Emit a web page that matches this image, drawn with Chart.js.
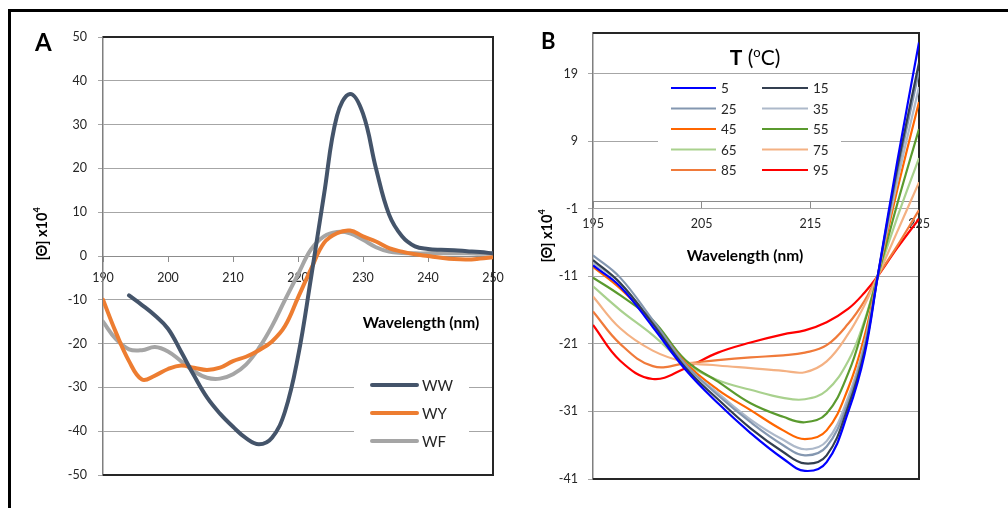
<!DOCTYPE html>
<html><head><meta charset="utf-8">
<script src="https://cdn.jsdelivr.net/npm/chart.js@4.4.1/dist/chart.umd.min.js"></script>
<style>
html,body{margin:0;padding:0;background:#fff;width:1008px;height:508px;overflow:hidden;}
#frame{position:absolute;left:8px;top:9px;width:1010px;height:510px;border-top:3px solid #000;border-left:3px solid #000;}
canvas{position:absolute;left:0;top:0;}
</style></head><body>
<div id="frame"></div>
<canvas id="ca" width="1008" height="508"></canvas>
<canvas id="cb" width="1008" height="508"></canvas>
<script>
// ---------- Panel A data ----------
const wlA = [190,192,194,196,198,200,202,204,206,208,210,212,214,216,218,220,222,224,226,228,230,232,234,236,238,240,242,244,246,248,250];
const WW  = [null,null,-9,-11.2,-13.6,-16.6,-21.8,-27.3,-32.3,-36,-39,-41.6,-43,-41.5,-35.5,-23,-5,14,32,37,32.5,20,9.5,4.5,2.2,1.6,1.4,1.3,1.1,0.9,0.6];
const WY  = [-10,-17.5,-24,-28.2,-27.3,-25.8,-25,-25.5,-26,-25.5,-24,-23,-21.5,-19.5,-16,-9.5,-3,3,5.2,5.8,4.5,3.3,1.8,1,0.4,0,-0.4,-0.7,-0.8,-0.6,-0.3];
const WF  = [-15,-19,-21.3,-21.5,-20.8,-21.8,-24,-26.3,-27.8,-28,-27,-24.8,-21,-16,-10,-4.2,1.5,4.5,5.5,5.2,3.7,2,1,0.7,0.6,0.6,0.6,0.6,0.6,0.5,0.5];
const ticksAx = [190,200,210,220,230,240,250];
const ticksAy = [-50,-40,-30,-20,-10,0,10,20,30,40,50];

// ---------- Panel B data ----------
const wlB = [195,197.5,200.5,203.5,206.5,209.5,212.5,214.5,216.5,218.5,220,221.2,223,225];
const temps = ['5','15','25','35','45','55','65','75','85','95'];
const T5  = [-9.4,-12.5,-18.5,-24.8,-29.8,-34.2,-38,-39.8,-38.5,-31,-22.5,-11,6,23.6];
const T15 = [-8.6,-12,-18,-24.5,-29.2,-33.5,-37,-38.7,-37.5,-30.2,-22,-11,5,20.6];
const T25 = [-7.9,-11.2,-17.5,-24,-28.6,-32.6,-36,-37.5,-36.2,-29.5,-21.3,-11,4.2,19.4];
const T35 = [-9,-12,-18,-24.2,-28.3,-32.2,-35.2,-36.6,-35.4,-28.8,-20.8,-11,3,17];
const T45 = [-9.6,-12.8,-17.8,-23.8,-27.8,-30.8,-33.8,-35.1,-33.8,-27.5,-19.8,-11,1.8,14.8];
const T55 = [-11.2,-13.8,-17.5,-23.4,-26.6,-29.8,-31.8,-32.6,-31.3,-25.3,-17.8,-11,-0.3,10.8];
const T65 = [-12.5,-16,-19.7,-23.9,-26.4,-27.8,-29,-29.2,-27.9,-23.5,-17.5,-11,-2.3,6.5];
const T75 = [-14,-18.7,-22,-23.7,-24.2,-24.6,-25,-25.2,-23.6,-19.5,-15.2,-11,-4.4,2.9];
const T85 = [-16.2,-21,-24.3,-23.9,-23.4,-23,-22.7,-22.3,-21.2,-18,-14.6,-11,-6.5,-1.2];
const T95 = [-18.2,-23.5,-26.2,-24.6,-22.3,-20.8,-19.6,-19,-17.8,-15.8,-13.4,-11,-6.8,-2.5];
const ticksBx = [195,205,215,225];
const ticksBy = [-41,-31,-21,-11,-1,9,19];

const colA = ['#44546A','#ED7D31','#A5A5A5'];
const colB = ['#0000FF','#333F50','#8497B0','#ADB9CA','#FF6600','#5A9A2E','#A9D18E','#F4B183','#F07A3A','#FF0000'];

const FONT = 'Lato, "Open Sans", sans-serif';
const pts = (xs, ys) => xs.map((x,i)=>({x:x, y:ys[i]})).filter(p=>p.y!==null);

function supText(ctx, x, y, parts){
  let cx = x;
  parts.forEach(p=>{ctx.font=p.font; ctx.fillText(p.t, cx, y+(p.dy||0)); cx += ctx.measureText(p.t).width;});
}
function widthOf(ctx, parts){let w=0; parts.forEach(p=>{ctx.font=p.font; w+=ctx.measureText(p.t).width;}); return w;}
function yTitle(ctx, cx, cy){
  const parts=[{t:'[Θ] x10',font:'bold 14.5px '+FONT},{t:'4',font:'bold 9px '+FONT,dy:-5}];
  ctx.save(); ctx.translate(cx,cy); ctx.rotate(-Math.PI/2);
  ctx.fillStyle='#000'; ctx.textBaseline='middle'; ctx.textAlign='left';
  const w=widthOf(ctx,parts); supText(ctx,-w/2,0,parts); ctx.restore();
}
function plotBorder(chart){
  const {ctx, chartArea:a} = chart;
  ctx.save(); ctx.strokeStyle='#262626'; ctx.lineWidth=2;
  ctx.beginPath(); ctx.moveTo(a.left,a.top); ctx.lineTo(a.right,a.top); ctx.lineTo(a.right,a.bottom); ctx.lineTo(a.left,a.bottom); ctx.stroke();
  ctx.restore();
}

const decoA = {
  id:'decoA',
  beforeDatasetsDraw(chart){ plotBorder(chart); },
  afterDraw(chart){
    const ctx=chart.ctx; ctx.save();
    ctx.fillStyle='#000'; ctx.textBaseline='alphabetic'; ctx.textAlign='left';
    ctx.font='bold 24px '+FONT; ctx.fillText('A',35,51);
    ctx.font='bold 15.5px '+FONT; ctx.textAlign='center'; ctx.textBaseline='middle';
    ctx.fillText('Wavelength (nm)',421,323);
    yTitle(ctx,42,234);
    ctx.fillStyle='#fff'; ctx.fillRect(354,368,115,87);
    const names=chart.data.datasets.map(d=>d.label);
    names.forEach((n,i)=>{
      const y=385+i*28;
      ctx.strokeStyle=colA[i]; ctx.lineWidth=4; ctx.lineCap='round';
      ctx.beginPath(); ctx.moveTo(372,y); ctx.lineTo(417,y); ctx.stroke();
      ctx.fillStyle='#262626'; ctx.font='15px '+FONT; ctx.textAlign='left'; ctx.textBaseline='middle';
      ctx.fillText(n,422,y+1);
    });
    ctx.restore();
  }
};

const decoB = {
  id:'decoB',
  beforeDatasetsDraw(chart){ plotBorder(chart); },
  afterDraw(chart){
    const ctx=chart.ctx; ctx.save();
    ctx.fillStyle='#000'; ctx.textBaseline='alphabetic'; ctx.textAlign='left';
    ctx.font='bold 22px '+FONT; ctx.fillText('B',541,49);
    ctx.font='bold 15.5px '+FONT; ctx.textAlign='center'; ctx.textBaseline='middle';
    ctx.fillText('Wavelength (nm)',745,256);
    yTitle(ctx,547,236);
    ctx.fillStyle='#fff'; ctx.fillRect(658,79,183,110);
    const tp=[{t:'T',font:'bold 21px '+FONT},{t:' (',font:'21px '+FONT},{t:'o',font:'13px '+FONT,dy:-8},{t:'C)',font:'21px '+FONT}];
    ctx.fillStyle='#000'; ctx.textAlign='left'; ctx.textBaseline='alphabetic';
    const w=widthOf(ctx,tp); supText(ctx,755-w/2,65,tp);
    chart.data.datasets.forEach((d,i)=>{
      const col=i%2, row=Math.floor(i/2);
      const y=88+row*20.5;
      const x0= col===0?671:762, x1= col===0?716:808;
      ctx.strokeStyle=d.borderColor; ctx.lineWidth=2.2; ctx.lineCap='butt';
      ctx.beginPath(); ctx.moveTo(x0,y); ctx.lineTo(x1,y); ctx.stroke();
      ctx.fillStyle='#262626'; ctx.font='13.5px '+FONT; ctx.textAlign='left'; ctx.textBaseline='middle';
      ctx.fillText(d.label, x1+5, y+1);
    });
    ctx.restore();
  }
};

const tickFont = {family:FONT, size:12.5};

new Chart(document.getElementById('ca'), {
  type:'line',
  data:{datasets:[
    {label:'WW', data:pts(wlA,WW), borderColor:colA[0], borderWidth:4},
    {label:'WY', data:pts(wlA,WY), borderColor:colA[1], borderWidth:4},
    {label:'WF', data:pts(wlA,WF), borderColor:colA[2], borderWidth:4}
  ]},
  options:{
    responsive:false, animation:false, events:[],
    elements:{point:{radius:0}, line:{tension:0.4, borderCapStyle:'round'}},
    layout:{padding:{left:53, top:37, right:515, bottom:33}},
    plugins:{legend:{display:false}, tooltip:{enabled:false}},
    scales:{
      x:{type:'linear', min:190, max:250, position:{y:0},
         afterBuildTicks(s){ s.ticks = ticksAx.map(v=>({value:v})); },
         ticks:{color:'#262626', font:tickFont, padding:9, maxRotation:0},
         grid:{drawOnChartArea:false, tickLength:5, color:'#8c8c8c'},
         border:{color:'#8c8c8c', width:1}},
      y:{type:'linear', min:-50, max:50,
         afterBuildTicks(s){ s.ticks = ticksAy.map(v=>({value:v})); },
         afterFit(s){ s.width = 50; },
         ticks:{color:'#262626', font:tickFont, padding:11},
         grid:{color:'#a6a6a6', tickLength:5},
         border:{color:'#7f7f7f', width:1.5}}
    }
  },
  plugins:[decoA]
});

const seriesB=[T5,T15,T25,T35,T45,T55,T65,T75,T85,T95];
new Chart(document.getElementById('cb'), {
  type:'line',
  data:{datasets: seriesB.map((s,i)=>({label:temps[i], data:pts(wlB,s), borderColor:colB[i], borderWidth:2.2}))},
  options:{
    responsive:false, animation:false, events:[],
    elements:{point:{radius:0}, line:{tension:0.4}},
    layout:{padding:{left:543, top:33, right:89, bottom:29}},
    plugins:{legend:{display:false}, tooltip:{enabled:false}},
    scales:{
      x:{type:'linear', min:195, max:225, position:{y:0},
         afterBuildTicks(s){ s.ticks = ticksBx.map(v=>({value:v})); },
         ticks:{color:'#262626', font:tickFont, padding:9, maxRotation:0},
         grid:{drawOnChartArea:false, tickLength:6, color:'#8c8c8c'},
         border:{color:'#8c8c8c', width:1}},
      y:{type:'linear', min:-41, max:25,
         afterBuildTicks(s){ s.ticks = ticksBy.map(v=>({value:v})); },
         afterFit(s){ s.width = 50; },
         ticks:{color:'#262626', font:tickFont, padding:10},
         grid:{color:'#a6a6a6', tickLength:5},
         border:{color:'#7f7f7f', width:1.5}}
    }
  },
  plugins:[decoB]
});
</script>
</body></html>
